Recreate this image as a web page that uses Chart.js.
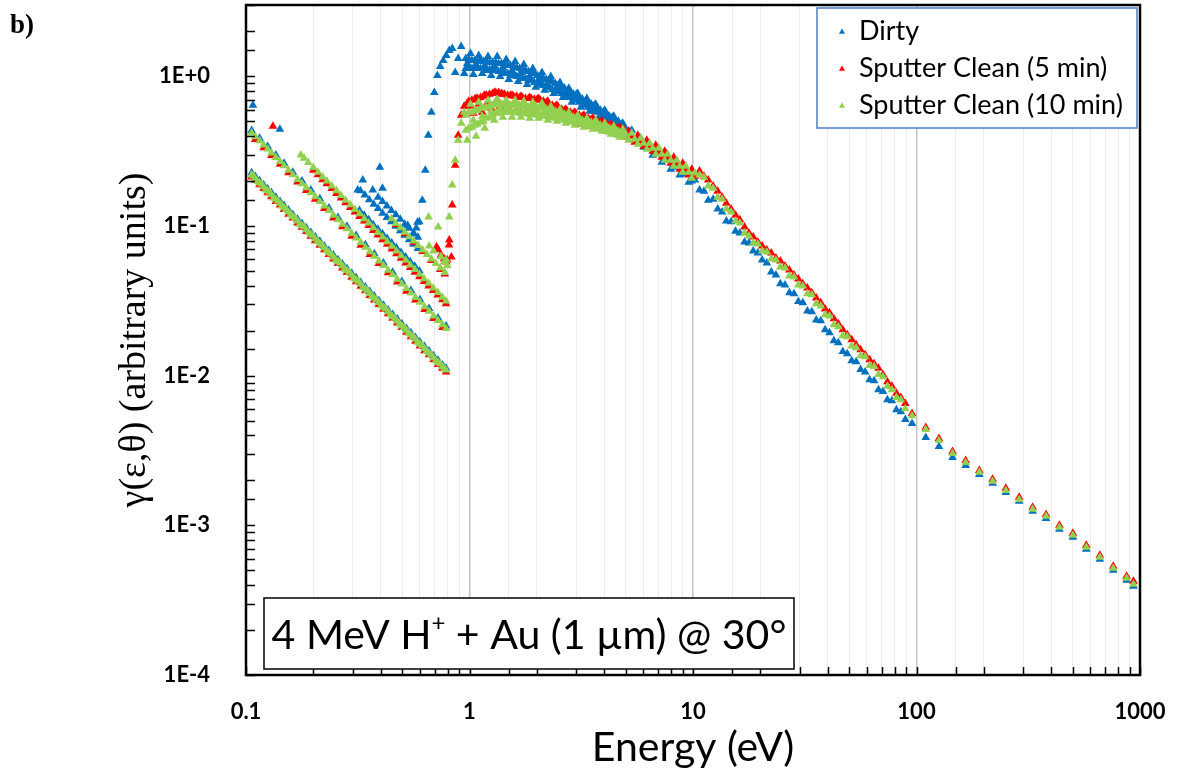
<!DOCTYPE html>
<html>
<head>
<meta charset="utf-8">
<script src="https://cdn.jsdelivr.net/npm/chart.js@4.4.0/dist/chart.umd.min.js"></script>
<style>
  html, body { margin: 0; padding: 0; background: #fff; }
  #wrap { position: relative; width: 1180px; height: 776px; }
</style>
</head>
<body>
<div id="wrap"><canvas id="gammaChart" width="1180" height="776"></canvas></div>
<script>
// ---- series names / colours ----
const seriesNames = ['Dirty', 'Sputter Clean (5 min)', 'Sputter Clean (10 min)'];
const seriesColors = ['#0070C0', '#FF0000', '#92D050'];

// ---- tick labels ----
const xTickLabels = ['0.1', '1', '10', '100', '1000'];
const yTickLabels = ['1E-4', '1E-3', '1E-2', '1E-1', '1E+0'];

// ---- low energy strips (below ~0.8 eV) ----
const stripE1 = [0.106,0.11,0.115,0.12,0.125,0.13,0.136,0.142,0.148,0.155,0.162,0.17,0.178,0.186,0.195,0.204,0.214,0.224,0.235,0.246,0.258,0.27,0.283,0.297,0.311,0.326,0.342,0.358,0.375,0.393,0.412,0.432,0.453,0.475,0.498,0.522,0.547,0.573,0.6,0.629,0.659,0.69,0.723,0.757,0.785];
const dirtyStrip1 = [0.227,0.214,0.201,0.188,0.177,0.167,0.156,0.146,0.137,0.128,0.119,0.111,0.104,0.0974,0.0907,0.0849,0.079,0.0737,0.0686,0.0641,0.0596,0.0557,0.0519,0.0483,0.0451,0.042,0.0391,0.0365,0.0341,0.0317,0.0296,0.0275,0.0256,0.0239,0.0222,0.0207,0.0194,0.018,0.0168,0.0157,0.0146,0.0136,0.0127,0.0118,0.0112];
const clean5Strip1 = [0.213,0.202,0.189,0.178,0.167,0.157,0.146,0.138,0.129,0.12,0.113,0.105,0.098,0.0918,0.0855,0.0799,0.0744,0.0695,0.0646,0.0603,0.0562,0.0525,0.0489,0.0455,0.0425,0.0396,0.0369,0.0343,0.0321,0.0299,0.0278,0.0259,0.0242,0.0225,0.021,0.0195,0.0182,0.017,0.0158,0.0147,0.0138,0.0128,0.0119,0.0112,0.0106];
const clean10Strip1 = [0.22,0.208,0.195,0.183,0.172,0.162,0.151,0.142,0.133,0.124,0.116,0.108,0.101,0.0946,0.0881,0.0824,0.0767,0.0716,0.0666,0.0622,0.0579,0.0541,0.0504,0.0469,0.0438,0.0408,0.038,0.0354,0.0331,0.0308,0.0287,0.0267,0.0249,0.0232,0.0216,0.0201,0.0188,0.0175,0.0163,0.0152,0.0142,0.0132,0.0123,0.0115,0.0109];
// channels lying between the ones above on the same lowest strip
const stripE1b = [0.108,0.1125,0.1175,0.1225,0.1275,0.133,0.139,0.145,0.1515,0.1585,0.166,0.174,0.182,0.1905,0.1995,0.209,0.219,0.2295,0.2405,0.252,0.264,0.2765,0.29,0.304,0.3185,0.334,0.35,0.3665,0.384,0.4025,0.422,0.4425,0.464,0.4865,0.51,0.5345,0.56,0.5865,0.6145,0.644,0.6745,0.7065,0.74,0.771];
const clean10Strip1b = [0.216,0.199,0.191,0.175,0.169,0.154,0.147,0.136,0.129,0.119,0.113,0.103,0.0988,0.0904,0.0861,0.0787,0.0748,0.0684,0.065,0.0594,0.0566,0.0517,0.0491,0.0448,0.0427,0.039,0.0371,0.0339,0.0322,0.0294,0.028,0.0255,0.0242,0.0222,0.021,0.0192,0.0183,0.0167,0.0159,0.0146,0.0138,0.0126,0.012,0.0111];

const dirtyStrip2 = [0.435,null,0.386,null,0.34,null,0.298,null,0.263,null,0.229,null,0.2,null,0.174,null,0.152,null,0.132,null,0.114,null,0.0996,null,0.0865,null,0.0751,null,0.0654,null,0.0567,null,0.0492,null,0.0426,null,0.0371,null,0.0322,null,0.0281,null,0.0243,null,0.0215];
const clean5Strip2 = [null,0.379,null,0.334,null,0.296,null,0.259,null,0.227,null,0.197,null,0.173,null,0.151,null,0.131,null,0.113,null,0.0989,null,0.0855,null,0.0744,null,0.0646,null,0.0562,null,0.0487,null,0.0423,null,0.0367,null,0.032,null,0.0277,null,0.0241,null,0.021,null];
const clean10Strip2 = [0.418,0.395,0.371,0.348,0.327,0.308,0.287,0.27,0.253,0.236,0.22,0.205,0.192,0.18,0.167,0.157,0.146,0.136,0.127,0.118,0.11,0.103,0.0958,0.0891,0.0832,0.0775,0.0722,0.0673,0.0629,0.0585,0.0545,0.0507,0.0473,0.0441,0.041,0.0382,0.0357,0.0333,0.031,0.0289,0.027,0.0251,0.0234,0.0219,0.0207];

const stripE3 = [0.176,0.182,0.19,0.2,0.21,0.22,0.23,0.242,0.254,0.266,0.279,0.293,0.307,0.322,0.338,0.354,0.371,0.389,0.408,0.428,0.449,0.471,0.494,0.518,0.543,0.569,0.597,0.626,0.656,0.688,0.721,0.756,0.785];
const dirtyStrip3 = [null,null,null,null,null,null,null,null,null,null,null,null,null,0.127,0.118,0.11,0.102,0.0952,0.0887,0.0825,0.0769,0.0715,0.0666,0.062,0.0578,0.0539,0.0501,null,null,null,null,null,null];
const clean5Strip3 = [null,null,null,0.236,0.22,0.204,0.192,0.178,0.165,0.154,0.143,0.133,0.124,0.116,0.108,0.101,0.0935,0.0871,0.0811,0.0755,0.0703,0.0654,0.0609,0.0566,0.0528,0.0492,0.0458,0.0426,0.0397,0.0371,0.0346,0.0322,0.0303];
const clean10Strip3 = [0.298,0.284,0.266,0.246,0.229,0.213,0.2,0.185,0.172,0.16,0.149,0.139,0.129,0.121,0.112,0.105,0.0974,0.0907,0.0845,0.0786,0.0732,0.0681,0.0634,0.059,0.055,0.0513,0.0477,0.0444,0.0414,0.0386,0.036,0.0335,0.0316];

const stripE4 = [0.31,0.325,0.34,0.356,0.373,0.39,0.408,0.427,0.447,0.468,0.49,0.513,0.537,0.562,0.588,0.616,0.645,0.675,0.707,0.74,0.775];
const dirtyStrip4 = [null,0.172,0.161,0.15,0.14,0.131,0.122,0.114,0.107,0.0996,0.0929,0.0868,0.081,0.0757,0.0707,null,null,null,null,null,null];
const dirtyStrip5 = [null,null,null,null,null,0.156,0.146,0.136,0.127,0.119,0.111,0.103,0.0965,0.0901,0.0842,null,null,null,null,null,null];
const clean5Strip4 = [null,null,null,null,null,null,null,null,null,0.102,null,0.0888,null,0.0775,null,0.0675,null,0.0589,null,0.0513,0.0478];
const clean10Strip4 = [null,null,null,null,null,null,null,null,0.112,0.104,0.0974,0.0909,0.0849,0.0793,0.0741,0.0691,0.0645,0.0602,0.0562,0.0524,0.0489];

// scattered single points
const dirtyExtraE = [0.1074,0.1417,0.316,0.333,0.369,0.397,0.408,0.529,0.585];
const dirtyExtraY = [0.641,0.443,0.174,0.203,0.174,0.247,0.179,0.101,0.106];
const clean5ExtraE = [0.132,0.712,0.724,0.745,0.77,0.795,0.81,0.83];
const clean5ExtraY = [0.464,0.0726,0.0695,0.064,0.0605,0.0593,0.0747,0.062];
const clean10ExtraE = [0.656,0.66,0.69,0.724,0.745,0.77,0.795];
const clean10ExtraY = [0.115,0.0736,0.068,0.0985,0.0625,0.058,0.0545];

// ---- main spectrum ----
const energy = [0.56,0.578,0.596,0.615,0.634,0.654,0.675,0.696,0.718,0.74,0.763,0.787,0.812,0.837,0.863,0.89,0.918,0.947,0.977,1.01,
  1.04,1.07,1.1,1.14,1.17,1.21,1.25,1.29,1.33,1.37,1.41,1.46,1.5,1.55,1.6,1.65,1.7,1.75,1.81,1.86,
  1.92,1.98,2.04,2.11,2.17,2.24,2.31,2.38,2.46,2.54,2.62,2.7,2.78,2.87,2.96,3.05,3.15,3.25,3.35,3.45,
  3.56,3.67,3.79,3.91,4.03,4.16,4.29,4.42,4.56,4.7,4.85,5.0,5.16,5.32,5.49,5.66,5.84,6.02,6.21,6.4,
  6.6,6.81,7.03,7.25,7.47,7.71,7.95,8.2,8.46,8.72,9.0,9.28,9.57,9.87,10.2,
  10.7,11.2,11.7,12.3,12.9,13.5,14.1,14.8,15.5,16.2,17.0,17.8,18.6,19.5,20.4,21.4,22.4,23.5,24.6,25.8,
  27.0,28.3,29.6,31.0,32.5,34.0,35.6,37.3,39.0,40.8,42.7,44.7,46.8,49.0,51.3,53.7,56.2,58.9,61.7,64.6,
  67.6,70.8,74.1,77.6,81.3,85.1,89.1,
  95.5,110,126,145,166,191,219,251,288,331,380,436,501,575,661,759,871,935];

const dirtyMain = [0.0884,0.0972,0.107,0.149,0.236,0.404,0.575,0.782,1.015,1.166,1.279,1.38,1.49,
  1.537,1.063,1.318,1.585,1.047,1.221,1.423,1.031,1.202,1.38,1.047,1.184,1.359,1.015,1.184,1.359,1.0,1.148,
  1.298,0.955,1.096,1.259,0.926,1.063,1.202,0.884,1.0,1.131,0.845,0.94,1.063,0.807,0.898,1.0,0.77,0.845,
  0.912,0.724,0.782,0.832,0.671,0.724,0.77,0.621,0.671,0.713,0.584,0.621,0.651,0.533,0.567,0.593,0.494,0.517,
  0.541,0.45,0.471,0.486,0.417,0.43,0.437,0.374,0.386,0.386,0.336,0.341,0.347,0.297,0.307,0.307,0.267,0.275,
  0.275,0.24,0.247,0.251,0.219,0.222,0.229,0.196,0.2,0.203,
  0.174,0.171,0.149,0.151,0.13,0.124,0.108,0.107,0.0924,0.0898,0.0782,0.077,0.0681,0.0661,0.0593,0.0567,
  0.0494,0.0471,0.0411,0.0404,0.0358,0.0353,0.0313,0.0307,0.0271,0.0267,0.0236,0.0233,0.0203,0.0194,0.0171,
  0.0166,0.0145,0.014,0.0126,0.0124,0.011,0.0106,0.0094,0.00925,0.00807,0.00785,0.00692,0.00681,0.00593,0.00575,0.00509,
  0.00479,0.00386,0.00336,0.00284,0.00251,0.00219,0.00191,0.00166,0.00145,0.00124,0.00111,0.00094,0.000832,
  0.000692,0.000593,0.000501,0.00043,0.000392];

const clean5Main = [null,null,null,null,null,null,null,null,null,null,null,
  0.0575,0.0807,0.138,0.255,0.404,0.55,0.631,
  0.661,0.631,0.567,0.713,0.651,0.575,0.747,0.671,0.612,0.782,0.703,0.631,0.759,0.681,0.612,0.747,0.681,0.612,
  0.736,0.671,0.603,0.724,0.661,0.593,0.713,0.641,0.575,0.681,0.612,0.55,0.641,0.584,0.525,0.603,0.55,0.501,
  0.575,0.525,0.479,0.55,0.509,0.464,0.525,0.486,0.45,0.501,0.464,0.43,0.479,0.443,0.41,0.457,0.423,0.392,
  0.43,0.398,0.363,0.404,0.368,0.341,0.374,0.341,0.316,0.347,0.316,0.288,0.316,0.288,0.263,0.288,0.263,0.24,
  0.263,0.24,0.219,0.24,0.215,
  0.233,0.215,0.203,0.185,0.171,0.156,0.142,0.13,0.118,0.11,0.0985,0.0898,0.0845,0.0782,0.0736,0.0692,
  0.0661,0.0612,0.0583,0.0541,0.0509,0.0471,0.0443,0.0411,0.0386,0.0358,0.033,0.0307,0.0279,0.0263,0.024,
  0.0222,0.0203,0.0188,0.0174,0.0161,0.0149,0.0138,0.0128,0.012,0.0112,0.0102,0.0091,0.00849,0.00762,0.00714,0.00651,
  0.00558,0.0045,0.0038,0.00311,0.00271,0.00233,0.00203,0.00177,0.00154,0.00132,0.00118,0.001,0.000885,
  0.000736,0.000631,0.000533,0.000457,0.000423];

const clean10Main = [null,null,null,null,null,null,null,null,null,null,null,
  0.0593,0.115,0.188,0.275,0.374,0.486,0.575,
  0.374,0.651,0.509,0.398,0.671,0.541,0.45,0.692,0.584,0.509,0.703,0.612,0.533,0.692,0.612,0.533,0.692,0.603,
  0.533,0.681,0.593,0.525,0.671,0.593,0.525,0.661,0.584,0.509,0.631,0.558,0.501,0.603,0.541,0.486,0.575,0.525,
  0.471,0.55,0.501,0.457,0.525,0.486,0.443,0.509,0.471,0.43,0.486,0.45,0.41,0.464,0.43,0.392,0.443,0.41,
  0.374,0.417,0.38,0.352,0.386,0.358,0.326,0.358,0.331,0.302,0.331,0.302,0.275,0.302,0.275,0.251,0.275,0.251,
  0.229,0.251,0.229,0.209,0.226,
  0.219,0.212,0.185,0.179,0.156,0.151,0.13,0.124,0.108,0.105,0.0898,0.0858,0.077,0.0759,0.0681,0.067,
  0.0602,0.0593,0.0533,0.0525,0.0464,0.0457,0.0404,0.0398,0.0353,0.0347,0.0302,0.0292,0.0255,0.0251,0.0219,
  0.0212,0.0185,0.0182,0.0158,0.0154,0.0136,0.0134,0.0117,0.0115,0.0102,0.00985,0.00849,0.00807,0.00714,0.00692,0.00602,
  0.00541,0.00437,0.00369,0.00302,0.00263,0.00226,0.00197,0.00171,0.00149,0.00128,0.00115,0.00097,0.000858,
  0.000714,0.000612,0.000517,0.000443,0.000404];

// extra channels over the broad maximum (fill the band between main channels)
const peakE = [0.962,0.993,1.025,1.055,1.085,1.12,1.155,1.19,1.23,1.27,1.31,1.35,1.39,1.435,1.48,1.525,1.575,1.625,
  1.675,1.725,1.78,1.835,1.89,1.95,2.01,2.075,2.14,2.205,2.275,2.345,2.42,2.5,2.58,2.66,2.74,2.825,2.915,3.005,
  3.1,3.2,3.3,3.4,3.505,3.615,3.73,3.85,3.97,4.095,4.225,4.355,4.49,4.63,4.775,4.925];
const dirtyPeakB = [1.318,1.131,1.279,1.131,1.259,1.131,1.259,1.096,1.24,1.096,1.24,1.08,1.221,1.047,1.184,1.015,1.166,1.0,
  1.131,0.97,1.096,0.94,1.047,0.912,1.015,0.884,0.97,0.845,0.94,0.819,0.898,0.794,0.845,0.759,0.794,0.724,0.759,0.692,
  0.724,0.651,0.681,0.621,0.651,0.584,0.612,0.55,0.575,0.525,0.541,0.494,0.509,0.464,0.479,0.437];
const dirtyPeakC = [1.131,1.298,1.131,1.279,1.148,1.279,1.131,1.259,1.114,1.24,1.096,1.221,1.08,1.202,1.047,1.184,1.031,1.148,
  1.0,1.114,0.97,1.08,0.94,1.047,0.912,1.0,0.871,0.955,0.845,0.926,0.807,0.871,0.77,0.832,0.736,0.794,0.703,0.759,
  0.671,0.703,0.641,0.671,0.612,0.641,0.575,0.593,0.541,0.567,0.509,0.533,0.479,0.501,0.45,0.464];
const clean5PeakB = [0.631,0.681,0.692,0.703,0.713,0.724,0.736,0.747,0.759,0.77,0.782,0.782,0.77,0.759,0.747,0.747,0.736,0.736,
  0.724,0.724,0.713,0.713,0.713,0.703,0.703,0.692,0.681,0.671,0.651,0.641,0.631,0.621,0.603,0.593,0.584,0.575,0.567,0.558,
  0.55,0.541,0.533,0.525,0.517,0.509,0.501,0.494,0.486,0.479,0.471,0.464,0.457,0.45,0.443,0.437];
const clean10PeakB = [0.55,0.45,0.575,0.471,0.593,0.494,0.612,0.525,0.631,0.55,0.651,0.567,0.651,0.575,0.641,0.575,0.641,0.575,
  0.641,0.567,0.631,0.558,0.621,0.558,0.621,0.55,0.612,0.541,0.593,0.533,0.584,0.525,0.567,0.509,0.55,0.501,0.533,0.494,
  0.517,0.479,0.501,0.471,0.494,0.457,0.479,0.443,0.464,0.43,0.45,0.417,0.437,0.404,0.423,0.392];
const clean10PeakC = [0.437,0.575,0.457,0.593,0.479,0.612,0.501,0.621,0.533,0.641,0.567,0.651,0.575,0.641,0.575,0.641,0.575,0.641,
  0.567,0.631,0.567,0.621,0.558,0.621,0.55,0.612,0.541,0.603,0.533,0.584,0.525,0.575,0.517,0.558,0.501,0.541,0.494,0.525,
  0.486,0.509,0.471,0.501,0.464,0.486,0.45,0.471,0.437,0.457,0.423,0.443,0.41,0.43,0.398,0.417];

function toPoints(xs, ys) {
    const pts = [];
    xs.forEach(function (x, i) {
        if (ys[i] != null) pts.push({ x: x, y: ys[i] });
    });
    return pts;
}

function isDecade(v) {
    const e = Math.log10(v);
    return Math.abs(e - Math.round(e)) < 1e-6;
}

const dirtyData = [].concat(
    toPoints(stripE1, dirtyStrip1), toPoints(stripE1, dirtyStrip2), toPoints(stripE3, dirtyStrip3),
    toPoints(stripE4, dirtyStrip4), toPoints(stripE4, dirtyStrip5),
    toPoints(dirtyExtraE, dirtyExtraY), toPoints(energy, dirtyMain),
    toPoints(peakE, dirtyPeakB), toPoints(peakE, dirtyPeakC));
const clean5Data = [].concat(
    toPoints(stripE1, clean5Strip1), toPoints(stripE1, clean5Strip2), toPoints(stripE3, clean5Strip3),
    toPoints(stripE4, clean5Strip4), toPoints(clean5ExtraE, clean5ExtraY), toPoints(energy, clean5Main),
    toPoints(peakE, clean5PeakB));
const clean10Data = [].concat(
    toPoints(stripE1, clean10Strip1), toPoints(stripE1b, clean10Strip1b), toPoints(stripE1, clean10Strip2),
    toPoints(stripE3, clean10Strip3), toPoints(stripE4, clean10Strip4), toPoints(clean10ExtraE, clean10ExtraY),
    toPoints(energy, clean10Main), toPoints(peakE, clean10PeakB), toPoints(peakE, clean10PeakC));

function drawTriangle(ctx, x, y, r) {
    ctx.beginPath();
    ctx.moveTo(x, y - r);
    ctx.lineTo(x + r * 0.866, y + r * 0.5);
    ctx.lineTo(x - r * 0.866, y + r * 0.5);
    ctx.closePath();
    ctx.fill();
}

// frame, inward ticks, legend, note box
const decorations = {
    id: 'decorations',
    afterDraw(chart) {
        const { ctx, chartArea: area, scales } = chart;
        ctx.save();

        ctx.strokeStyle = '#000';
        ctx.lineWidth = 1.5;
        ctx.beginPath();
        scales.x.ticks.forEach(function (t) {
            const px = Math.round(scales.x.getPixelForValue(t.value)) + 0.5;
            ctx.moveTo(px, area.bottom);
            ctx.lineTo(px, area.bottom - 8);
        });
        scales.y.ticks.forEach(function (t) {
            const py = Math.round(scales.y.getPixelForValue(t.value)) + 0.5;
            ctx.moveTo(area.left, py);
            ctx.lineTo(area.left + 9, py);
        });
        ctx.stroke();

        ctx.lineWidth = 2.5;
        ctx.strokeRect(area.left, area.top, area.right - area.left, area.bottom - area.top);

        // legend
        const lx = area.right - 323, ly = area.top + 3, lw = 320, lh = 120;
        ctx.fillStyle = '#fff';
        ctx.fillRect(lx, ly, lw, lh);
        ctx.strokeStyle = '#4f7cc4';
        ctx.lineWidth = 1.5;
        ctx.strokeRect(lx, ly, lw, lh);
        ctx.font = '27px Lato, "Open Sans", sans-serif';
        ctx.textBaseline = 'middle';
        ctx.textAlign = 'left';
        seriesNames.forEach(function (name, i) {
            const rowY = ly + 23 + i * 37;
            ctx.fillStyle = seriesColors[i];
            drawTriangle(ctx, lx + 25, rowY + 1, 3.5);
            ctx.fillStyle = '#000';
            ctx.fillText(name, lx + 42, rowY);
        });

        // note box
        const bx = area.left + 18, by = area.bottom - 77, bw = 530, bh = 71;
        ctx.fillStyle = '#fff';
        ctx.fillRect(bx, by, bw, bh);
        ctx.strokeStyle = '#000';
        ctx.lineWidth = 1.5;
        ctx.strokeRect(bx, by, bw, bh);
        const big = '41px Lato, "Open Sans", sans-serif';
        const small = '24px Lato, "Open Sans", sans-serif';
        const partA = '4 MeV H', partSup = '+', partB = ' + Au (1 \u00b5m) @ 30\u00b0';
        ctx.font = big;
        const wA = ctx.measureText(partA).width, wB = ctx.measureText(partB).width;
        ctx.font = small;
        const wS = ctx.measureText(partSup).width;
        let tx = bx + (bw - (wA + wS + wB)) / 2;
        const ty = by + bh / 2 + 2;
        ctx.fillStyle = '#000';
        ctx.textBaseline = 'middle';
        ctx.font = big;
        ctx.fillText(partA, tx, ty);
        tx += wA;
        ctx.font = small;
        ctx.fillText(partSup, tx, ty - 12);
        tx += wS;
        ctx.font = big;
        ctx.fillText(partB, tx, ty);

        // panel letter
        ctx.font = 'bold 27px "Liberation Serif", serif';
        ctx.textBaseline = 'alphabetic';
        ctx.fillText('b)', 10, 33);

        ctx.restore();
    }
};

const ctx = document.getElementById('gammaChart').getContext('2d');
Chart.defaults.font.family = 'Lato, "Open Sans", sans-serif';
Chart.defaults.color = '#000';

function makeSet(label, data, color, order) {
    return {
        label: label,
        data: data,
        backgroundColor: color,
        borderColor: color,
        borderWidth: 0,
        pointStyle: 'triangle',
        pointRadius: 5,
        pointHoverRadius: 5,
        showLine: false,
        order: order
    };
}

new Chart(ctx, {
    type: 'scatter',
    data: {
        datasets: [
            makeSet(seriesNames[0], dirtyData, seriesColors[0], 3),
            makeSet(seriesNames[1], clean5Data, seriesColors[1], 2),
            makeSet(seriesNames[2], clean10Data, seriesColors[2], 1)
        ]
    },
    options: {
        responsive: false,
        animation: false,
        layout: { padding: { left: 0, top: 5, right: 40, bottom: 0 } },
        plugins: {
            legend: { display: false },
            tooltip: { enabled: false }
        },
        scales: {
            x: {
                type: 'logarithmic',
                min: 0.1,
                max: 1000,
                afterFit: function (scale) {
                    scale.height = 101;
                    scale.paddingLeft = 0;
                    scale.paddingRight = 0;
                },
                border: { display: false },
                grid: {
                    drawTicks: false,
                    color: function (c) { return isDecade(c.tick.value) ? '#c4c4c4' : '#ececec'; },
                    lineWidth: function (c) { return isDecade(c.tick.value) ? 1.5 : 1; }
                },
                ticks: {
                    autoSkip: false,
                    maxRotation: 0,
                    padding: 24,
                    color: '#000',
                    font: { size: 22, weight: 'bold' },
                    callback: function (value) {
                        if (!isDecade(value)) return '';
                        return xTickLabels[Math.round(Math.log10(value)) + 1];
                    }
                },
                title: {
                    display: true,
                    text: 'Energy (eV)',
                    color: '#000',
                    font: { size: 41 },
                    padding: { top: 0, bottom: 4 }
                }
            },
            y: {
                type: 'logarithmic',
                min: 1e-4,
                max: 3,
                afterFit: function (scale) {
                    scale.width = 246;
                    scale.paddingTop = 0;
                    scale.paddingBottom = 0;
                },
                border: { display: false },
                grid: { display: false },
                ticks: {
                    autoSkip: false,
                    padding: 28,
                    color: '#000',
                    font: { size: 22, weight: 'bold' },
                    callback: function (value) {
                        if (!isDecade(value)) return '';
                        return yTickLabels[Math.round(Math.log10(value)) + 4];
                    }
                },
                title: {
                    display: true,
                    text: '\u03b3(\u03b5,\u03b8) (arbitrary units)',
                    color: '#000',
                    font: { family: '"Liberation Serif", "DejaVu Serif", serif', size: 38 },
                    padding: { top: 112, bottom: 0 }
                }
            }
        }
    },
    plugins: [decorations]
});
</script>
</body>
</html>
